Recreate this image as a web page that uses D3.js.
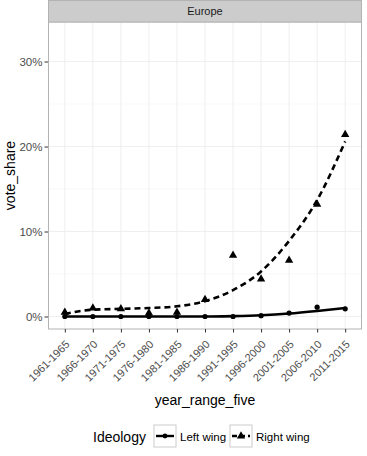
<!DOCTYPE html>
<html>
<head>
<meta charset="utf-8">
<script src="https://cdn.jsdelivr.net/npm/d3@7"></script>
<style>
  body { margin: 0; background: #fff; }
  text { font-family: "Liberation Sans", Arial, sans-serif; }
</style>
</head>
<body>
<script>
// data
const periods = ["1961-1965", "1966-1970", "1971-1975", "1976-1980", "1981-1985",
  "1986-1990", "1991-1995", "1996-2000", "2001-2005", "2006-2010", "2011-2015"];
const leftWing = [0.000, 0.000, 0.000, 0.000, 0.000, 0.000, 0.000, 0.001, 0.004, 0.011, 0.009];
const rightWing = [0.005, 0.010, 0.009, 0.004, 0.005, 0.020, 0.072, 0.044, 0.066, 0.132, 0.214];
// smoothed trend values (loess fit as drawn)
const leftSmooth = [0.000, 0.000, 0.000, 0.000, 0.000, 0.000, 0.0005, 0.0015, 0.0035, 0.0065, 0.0100];
const rightSmooth = [0.003, 0.008, 0.009, 0.010, 0.012, 0.018, 0.031, 0.053, 0.089, 0.137, 0.206];
const yTicks = [0, 0.1, 0.2, 0.3];
const yMinor = [0.05, 0.15, 0.25];

const width = 367, height = 456;
const panel = { left: 48, right: 362, top: 22, bottom: 329 };

const svg = d3.select("body").append("svg")
  .attr("width", width)
  .attr("height", height);

const x = d3.scalePoint()
  .domain(periods)
  .range([panel.left, panel.right])
  .padding(0.6);

const y = d3.scaleLinear()
  .domain([-0.0147, 0.3465])
  .range([panel.bottom, panel.top]);

// panel background + grid
svg.append("rect")
  .attr("x", panel.left).attr("y", panel.top)
  .attr("width", panel.right - panel.left).attr("height", panel.bottom - panel.top)
  .attr("fill", "#fff");

svg.selectAll(".minor")
  .data(yMinor)
  .enter().append("line")
  .attr("x1", panel.left).attr("x2", panel.right)
  .attr("y1", d => y(d)).attr("y2", d => y(d))
  .attr("stroke", "#f3f3f3").attr("stroke-width", 0.6);

svg.selectAll(".gy")
  .data(yTicks)
  .enter().append("line")
  .attr("x1", panel.left).attr("x2", panel.right)
  .attr("y1", d => y(d)).attr("y2", d => y(d))
  .attr("stroke", "#ebebeb").attr("stroke-width", 0.8);

svg.selectAll(".gx")
  .data(periods)
  .enter().append("line")
  .attr("x1", d => x(d)).attr("x2", d => x(d))
  .attr("y1", panel.top).attr("y2", panel.bottom)
  .attr("stroke", "#ebebeb").attr("stroke-width", 0.8);

// smooth lines
const line = d3.line()
  .x((d, i) => x(periods[i]))
  .y(d => y(d))
  .curve(d3.curveMonotoneX);

svg.append("path")
  .attr("d", line(rightSmooth))
  .attr("fill", "none")
  .attr("stroke", "#000")
  .attr("stroke-width", 2.6)
  .attr("stroke-dasharray", "6,4");

svg.append("path")
  .attr("d", line(leftSmooth))
  .attr("fill", "none")
  .attr("stroke", "#000")
  .attr("stroke-width", 2.6);

// points
svg.selectAll(".pl")
  .data(leftWing)
  .enter().append("circle")
  .attr("cx", (d, i) => x(periods[i]))
  .attr("cy", d => y(d))
  .attr("r", 2.6)
  .attr("fill", "#000");

const tri = d3.symbol().type(d3.symbolTriangle).size(30);
svg.selectAll(".pr")
  .data(rightWing)
  .enter().append("path")
  .attr("d", tri)
  .attr("transform", (d, i) => `translate(${x(periods[i])},${y(d)})`)
  .attr("fill", "#000");

// panel border
svg.append("rect")
  .attr("x", panel.left + 0.5).attr("y", panel.top)
  .attr("width", panel.right - panel.left - 1).attr("height", panel.bottom - panel.top)
  .attr("fill", "none")
  .attr("stroke", "#b3b3b3").attr("stroke-width", 1);

// strip
svg.append("rect")
  .attr("x", panel.left + 0.5).attr("y", 0.5)
  .attr("width", panel.right - panel.left - 1).attr("height", panel.top - 0.5)
  .attr("fill", "#cccccc")
  .attr("stroke", "#b3b3b3").attr("stroke-width", 1);

svg.append("text")
  .attr("x", (panel.left + panel.right) / 2)
  .attr("y", 15)
  .attr("text-anchor", "middle")
  .attr("font-size", 11)
  .attr("fill", "#1a1a1a")
  .text("Europe");

// y axis
const yAxis = svg.append("g")
  .attr("transform", `translate(${panel.left},0)`)
  .call(d3.axisLeft(y).tickValues(yTicks).tickFormat(d3.format(".0%")).tickSize(3.5).tickPadding(2));
yAxis.select(".domain").remove();
yAxis.selectAll("line").attr("stroke", "#333").attr("stroke-width", 1);
yAxis.selectAll("text")
  .attr("font-size", 11.5)
  .attr("fill", "#4d4d4d")
  .style("font-family", "Liberation Sans, Arial, sans-serif");

// x axis
const xAxis = svg.append("g")
  .attr("transform", `translate(0,${panel.bottom})`)
  .call(d3.axisBottom(x).tickSize(3.5).tickPadding(2));
xAxis.select(".domain").remove();
xAxis.selectAll("line").attr("stroke", "#333").attr("stroke-width", 1);
xAxis.selectAll("text")
  .attr("font-size", 11)
  .attr("fill", "#4d4d4d")
  .style("font-family", "Liberation Sans, Arial, sans-serif")
  .attr("text-anchor", "end")
  .attr("dy", null)
  .attr("y", 0)
  .attr("transform", "translate(5,16) rotate(-45)");

// axis titles
svg.append("text")
  .attr("transform", `translate(15,${(panel.top + panel.bottom) / 2}) rotate(-90)`)
  .attr("text-anchor", "middle")
  .attr("font-size", 14)
  .attr("fill", "#000")
  .text("vote_share");

svg.append("text")
  .attr("x", (panel.left + panel.right) / 2)
  .attr("y", 405)
  .attr("text-anchor", "middle")
  .attr("font-size", 14)
  .attr("fill", "#000")
  .text("year_range_five");

// legend
const legend = svg.append("g");
legend.append("text")
  .attr("x", 93).attr("y", 442)
  .attr("font-size", 14)
  .text("Ideology");

const keys = [
  { label: "Left wing", x: 154, dash: null, shape: "circle" },
  { label: "Right wing", x: 230, dash: "5,3", shape: "tri" }
];
keys.forEach(k => {
  const g = legend.append("g").attr("transform", `translate(${k.x},425)`);
  g.append("rect")
    .attr("width", 22).attr("height", 22)
    .attr("fill", "#fff")
    .attr("stroke", "#cccccc").attr("stroke-width", 1);
  g.append("line")
    .attr("x1", 2).attr("x2", 20).attr("y1", 11).attr("y2", 11)
    .attr("stroke", "#000").attr("stroke-width", 2.4)
    .attr("stroke-dasharray", k.dash);
  if (k.shape === "circle") {
    g.append("circle").attr("cx", 11).attr("cy", 11).attr("r", 2.4).attr("fill", "#000");
  } else {
    g.append("path").attr("d", tri).attr("transform", "translate(11,11)").attr("fill", "#000");
  }
  g.append("text")
    .attr("x", 26).attr("y", 15.5)
    .attr("font-size", 11.5)
    .text(k.label);
});
</script>
</body>
</html>
